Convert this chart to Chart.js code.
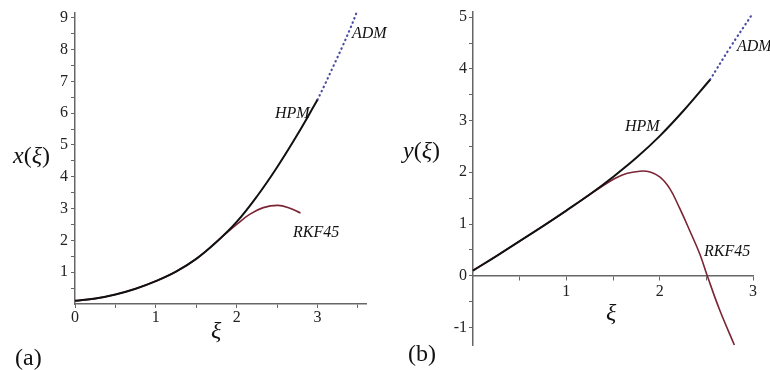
<!DOCTYPE html>
<html>
<head>
<meta charset="utf-8">
<script src="https://cdn.jsdelivr.net/npm/chart.js@4.4.1/dist/chart.umd.min.js"></script>
<style>
  html, body { margin: 0; padding: 0; background: #fff; }
  #wrap { position: relative; width: 770px; height: 370px; overflow: hidden; }
  .panel { position: absolute; top: 0; width: 385px; height: 370px; }
  .lbl { position: absolute; font-family: 'Liberation Serif', 'Times New Roman', serif; color: #111; white-space: nowrap; line-height: 1; }
  .curve { font-size: 16px; font-style: italic; }
  .big { font-size: 24px; }
</style>
</head>
<body>
<div id="wrap">
  <canvas id="chartA" class="panel" style="left:0" width="385" height="370"></canvas>
  <canvas id="chartB" class="panel" style="left:385px" width="385" height="370"></canvas>

  <div class="lbl curve" style="left:275px; top:105px">HPM</div>
  <div class="lbl curve" style="left:352px; top:25px">ADM</div>
  <div class="lbl curve" style="left:293px; top:224px">RKF45</div>
  <div class="lbl big" style="left:13px; top:143px"><i>x</i>(<i>ξ</i>)</div>
  <div class="lbl big" style="left:211px; top:318px"><i>ξ</i></div>
  <div class="lbl big" style="left:15px; top:345px">(a)</div>

  <div class="lbl curve" style="left:625px; top:118px">HPM</div>
  <div class="lbl curve" style="left:737px; top:38px">ADM</div>
  <div class="lbl curve" style="left:704px; top:243px">RKF45</div>
  <div class="lbl big" style="left:403px; top:138px"><i>y</i>(<i>ξ</i>)</div>
  <div class="lbl big" style="left:606px; top:300px"><i>ξ</i></div>
  <div class="lbl big" style="left:408px; top:341px">(b)</div>
</div>
<script>
// (a) x(xi)
const xiA = [0, 0.25, 0.5, 0.75, 1.0, 1.25, 1.5, 1.75, 2.0, 2.25, 2.5, 2.75, 3.0];
const hpmA = [0.1, 0.17, 0.3, 0.48, 0.72, 1.02, 1.42, 1.95, 2.58, 3.38, 4.3, 5.32, 6.42];
const rkfXiA = [0, 0.25, 0.5, 0.75, 1.0, 1.25, 1.5, 1.75, 1.83, 2.0, 2.16, 2.33, 2.51, 2.65, 2.79];
const rkfA = [0.1, 0.17, 0.3, 0.48, 0.72, 1.02, 1.42, 1.95, 2.13, 2.5, 2.82, 3.03, 3.1, 3.02, 2.86];
const admXiA = [3.0, 3.1, 3.2, 3.3, 3.4, 3.48];
const admA = [6.42, 6.95, 7.5, 8.05, 8.63, 9.14];

// (b) y(xi)
const xiB = [0, 0.25, 0.5, 0.75, 1.0, 1.25, 1.5, 1.75, 2.0, 2.25, 2.54];
const hpmB = [0.1, 0.38, 0.67, 0.96, 1.26, 1.57, 1.91, 2.28, 2.7, 3.18, 3.79];
const rkfXiB = [0, 0.25, 0.5, 0.75, 1.0, 1.25, 1.36, 1.5, 1.6, 1.71, 1.86, 2.0, 2.11, 2.21, 2.32, 2.43, 2.51, 2.64, 2.8];
const rkfB = [0.1, 0.38, 0.67, 0.96, 1.26, 1.57, 1.7, 1.86, 1.95, 2.0, 2.02, 1.91, 1.68, 1.32, 0.88, 0.42, 0.0, -0.65, -1.34];
const admXiB = [2.54, 2.75, 3.0];
const admB = [3.79, 4.4, 5.08];

// tick positions and their labels
const ticksXA = [0, 0.5, 1, 1.5, 2, 2.5, 3, 3.5];
const labelsXA = ['0', '', '1', '', '2', '', '3', ''];
const ticksYA = [0.5, 1, 1.5, 2, 2.5, 3, 3.5, 4, 4.5, 5, 5.5, 6, 6.5, 7, 7.5, 8, 8.5, 9];
const labelsYA = ['', '1', '', '2', '', '3', '', '4', '', '5', '', '6', '', '7', '', '8', '', '9'];
const ticksXB = [0.5, 1, 1.5, 2, 2.5, 3];
const labelsXB = ['', '1', '', '2', '', '3'];
const ticksYB = [-1, -0.5, 0, 0.5, 1, 1.5, 2, 2.5, 3, 3.5, 4, 4.5, 5];
const labelsYB = ['-1', '', '0', '', '1', '', '2', '', '3', '', '4', '', '5'];

Chart.defaults.font.family = 'Liberation Serif';

function pts(xs, ys) {
    return xs.map((x, i) => ({ x: x, y: ys[i] }));
}

function axis(values, labels, pad, extra) {
    return Object.assign({
        type: 'linear',
        grid: { drawOnChartArea: false, drawTicks: true, tickLength: 4, tickColor: '#666', tickWidth: 1 },
        border: { display: true, color: '#666', width: 1.5 },
        ticks: {
            color: '#222',
            autoSkip: false,
            maxRotation: 0,
            padding: pad,
            font: { family: 'Liberation Serif', size: 16 },
            callback: (v, i) => labels[i]
        },
        afterBuildTicks: (scale) => {
            scale.ticks = values.map(v => ({ value: v }));
        }
    }, extra);
}

function curves(hpm, rkf, adm) {
    return [{
        data: rkf,
        borderColor: '#7a2434',
        borderWidth: 1.6,
        order: 2
    }, {
        data: hpm,
        borderColor: '#111',
        borderWidth: 2,
        order: 1
    }, {
        // dotted continuation
        data: adm,
        borderColor: '#4b4ba6',
        borderWidth: 2.2,
        borderCapStyle: 'round',
        borderDash: [0.5, 4.2],
        order: 1
    }];
}

const common = {
    responsive: false,
    animation: false,
    events: [],
    elements: {
        point: { radius: 0 },
        line: { tension: 0.4, fill: false }
    },
    datasets: { line: { clip: false } },
    plugins: { legend: { display: false }, tooltip: { enabled: false } }
};

new Chart(document.getElementById('chartA'), {
    type: 'line',
    data: { datasets: curves(pts(xiA, hpmA), pts(rkfXiA, rkfA), pts(admXiA, admA)) },
    options: Object.assign({}, common, {
        layout: { padding: { left: 0, right: 19, top: 13, bottom: 0 } },
        scales: {
            x: axis(ticksXA, labelsXA, 0, {
                min: 0, max: 3.6,
                afterFit: (s) => { s.height = 66; }
            }),
            y: axis(ticksYA, labelsYA, 3, {
                min: 0, max: 9.15,
                afterFit: (s) => { s.width = 75; }
            })
        }
    })
});

new Chart(document.getElementById('chartB'), {
    type: 'line',
    data: { datasets: curves(pts(xiB, hpmB), pts(rkfXiB, rkfB), pts(admXiB, admB)) },
    options: Object.assign({}, common, {
        layout: { padding: { left: 0, right: 17, top: 12, bottom: 25 } },
        scales: {
            x: axis(ticksXB, labelsXB, 2, {
                min: 0, max: 3.0,
                position: { y: 0 }
            }),
            y: axis(ticksYB, labelsYB, 2, {
                min: -1.34, max: 5.1,
                afterFit: (s) => { s.width = 88; }
            })
        }
    })
});
</script>
</body>
</html>
